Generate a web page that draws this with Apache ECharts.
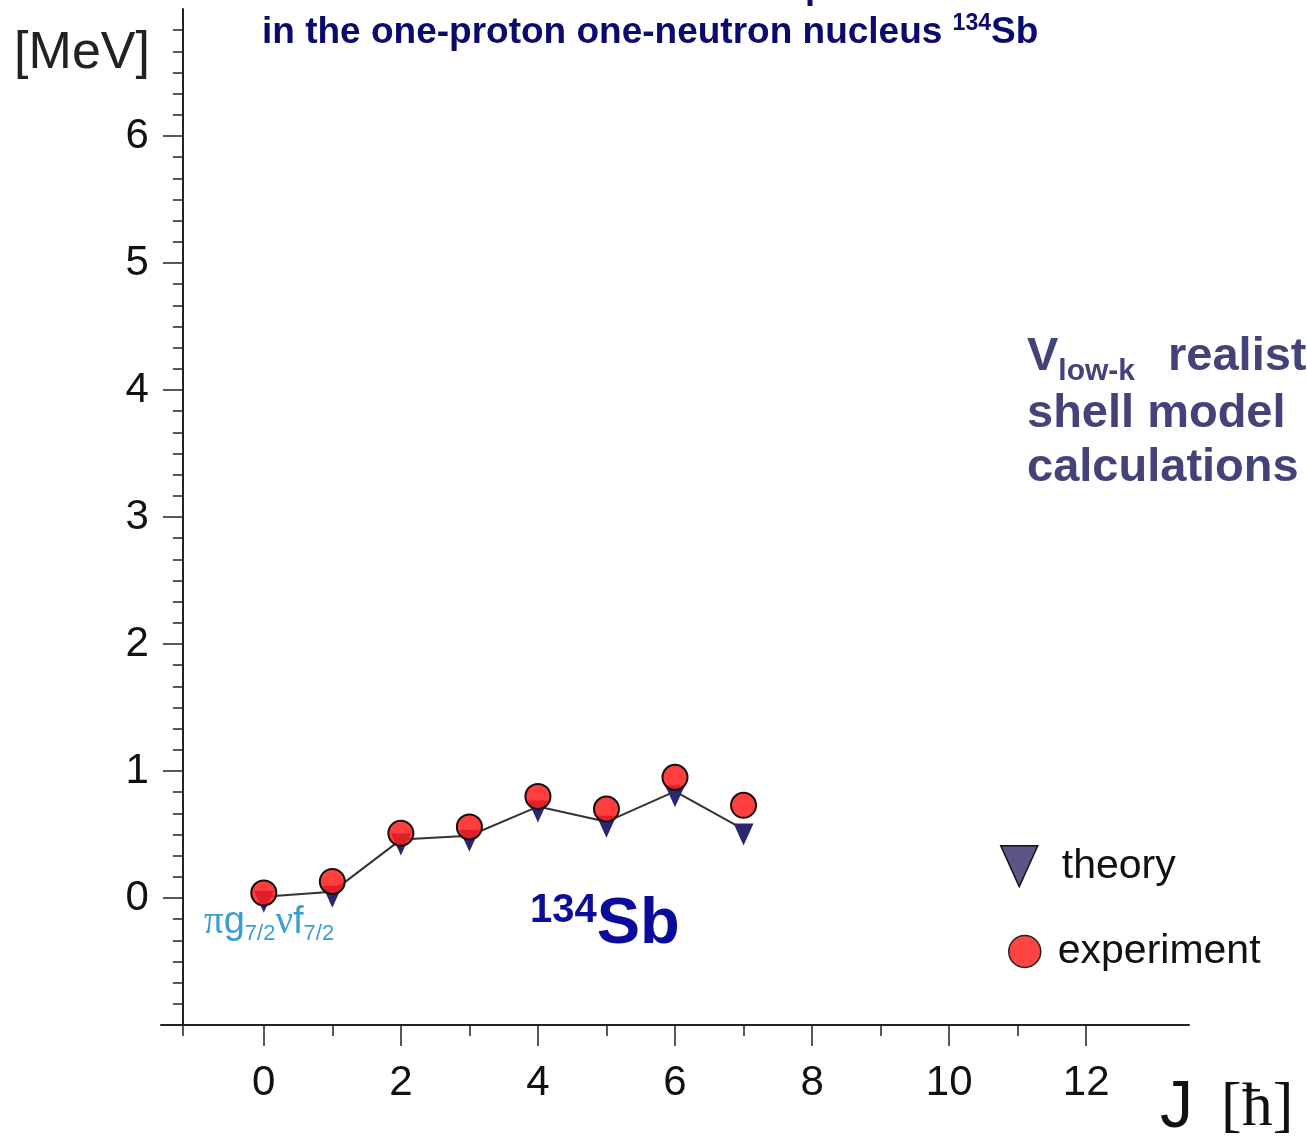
<!DOCTYPE html>
<html>
<head>
<meta charset="utf-8">
<script src="https://cdn.jsdelivr.net/npm/echarts@6/dist/echarts.min.js"></script>
<style>
html,body{margin:0;padding:0;background:#fff;}
#chart{width:1307px;height:1146px;}
</style>
</head>
<body>
<div id="chart"></div>
<script>
// ---- data ----
const spins = [0, 1, 2, 3, 4, 5, 6, 7];                                  // J [hbar]
const theory = [0.01, 0.05, 0.46, 0.49, 0.72, 0.60, 0.84, 0.54];          // MeV
const experiment = [0.04, 0.13, 0.51, 0.56, 0.80, 0.70, 0.95, 0.73];      // MeV
const xMajorTicks = [0, 2, 4, 6, 8, 10, 12];
const xMinorTicks = [1, 3, 5, 7, 9, 11];
const yTickLabels = [0, 1, 2, 3, 4, 5, 6];
const xMin = -1.5, xMax = 13.5, yMin = -1, yMax = 7;
const yAxisCrossing = -1.18;   // J value where the energy axis stands

const SANS = "'Liberation Sans', Arial, sans-serif";
const SERIF = "'Liberation Serif', 'Times New Roman', serif";

const gridLeft = 161, gridRight = 118, gridTop = 9, gridBottom = 121;
const W = 1307;
const pxPerJ = (W - gridLeft - gridRight) / (xMax - xMin);
const yAxisOffset = -(yAxisCrossing - xMin) * pxPerJ;

const chart = echarts.init(document.getElementById('chart'), null, {renderer: 'canvas'});

const option = {
  animation: false,
  backgroundColor: '#ffffff',
  title: [
    {
      text: 'Proton-neutron multiplets',
      left: 447, top: -29.6, padding: 0,
      textStyle: {fontFamily: SANS, fontWeight: 'bold', fontSize: 36, lineHeight: 36, color: '#0b0b6e'}
    },
    {
      text: 'in the one-proton one-neutron nucleus {sup|134}Sb',
      left: 262, top: 12.5, padding: 0,
      textStyle: {
        fontFamily: SANS, fontWeight: 'bold', fontSize: 37, lineHeight: 40, color: '#0b0b6e',
        rich: {
          sup: {fontFamily: SANS, fontWeight: 'bold', fontSize: 23, lineHeight: 30, verticalAlign: 'top', color: '#0b0b6e'}
        }
      }
    }
  ],
  legend: [
    {
      left: 1000, top: 845, padding: 0,
      selectedMode: false,
      itemWidth: 37, itemHeight: 41,
      data: [{
        name: 'theory',
        icon: 'path://M0,0L37,0L18.5,41Z',
        itemStyle: {color: '#5b5588', borderColor: '#111', borderWidth: 1.5, opacity: 1}
      }],
      textStyle: {fontFamily: SANS, fontSize: 41, color: '#111', lineHeight: 41, padding: [0, 0, 0, 19]}
    },
    {
      left: 1008, top: 931, padding: 0,
      selectedMode: false,
      itemWidth: 32, itemHeight: 32,
      data: [{
        name: 'experiment',
        icon: 'circle',
        itemStyle: {color: '#ff4444', borderColor: '#222', borderWidth: 1.5, opacity: 1}
      }],
      textStyle: {fontFamily: SANS, fontSize: 41, color: '#111', lineHeight: 32, padding: [0, 0, 0, 12]}
    }
  ],
  grid: {left: gridLeft, right: gridRight, top: gridTop, bottom: gridBottom, containLabel: false},
  xAxis: [
    {
      type: 'value', min: xMin, max: xMax, position: 'bottom',
      name: '{j|J}{h|[ħ]}',
      nameLocation: 'end', nameGap: -29,
      nameTextStyle: {
        align: 'left', verticalAlign: 'top', padding: [51, 0, 0, 0],
        rich: {
          j: {fontFamily: SANS, fontSize: 66, lineHeight: 66, color: '#111'},
          h: {fontFamily: SERIF, fontSize: 62, lineHeight: 66, color: '#111', padding: [0, 0, 0, 28]}
        }
      },
      axisLine: {show: true, onZero: false, lineStyle: {color: '#222', width: 2}},
      axisTick: {show: true, customValues: xMajorTicks, length: 21, lineStyle: {color: '#222', width: 1.5}},
      axisLabel: {show: true, customValues: xMajorTicks, margin: 37, fontFamily: SANS, fontSize: 42, color: '#111'},
      splitLine: {show: false}
    },
    {
      type: 'value', min: xMin, max: xMax, position: 'bottom',
      axisLine: {show: false, onZero: false},
      axisTick: {show: true, customValues: [yAxisCrossing].concat(xMinorTicks), length: 11, lineStyle: {color: '#222', width: 1.5}},
      axisLabel: {show: false},
      splitLine: {show: false}
    }
  ],
  yAxis: {
    type: 'value', min: yMin, max: yMax, interval: 1, position: 'left',
    offset: yAxisOffset,
    name: '[MeV]',
    nameLocation: 'end', nameGap: -45,
    nameTextStyle: {fontFamily: SANS, fontSize: 52, color: '#222', align: 'right', verticalAlign: 'middle', padding: [0, 33, 0, 0]},
    axisLine: {show: true, onZero: false, lineStyle: {color: '#222', width: 2}},
    axisTick: {show: true, customValues: yTickLabels, length: 20, lineStyle: {color: '#222', width: 1.5}},
    minorTick: {show: true, splitNumber: 6, length: 10, lineStyle: {color: '#222', width: 1.5}},
    axisLabel: {show: true, customValues: yTickLabels, margin: 34, fontFamily: SANS, fontSize: 42, color: '#111'},
    splitLine: {show: false},
    minorSplitLine: {show: false}
  },
  series: [
    {
      name: 'theory',
      type: 'line',
      xAxisIndex: 0,
      data: spins.map((j, i) => [j, theory[i]]),
      symbol: 'triangle',
      symbolRotate: 180,
      symbolSize: [20, 22],
      symbolOffset: [0, 5],
      showAllSymbol: true,
      itemStyle: {color: '#2b2670'},
      lineStyle: {color: '#333333', width: 2},
      z: 2
    },
    {
      name: 'experiment',
      type: 'scatter',
      xAxisIndex: 0,
      data: spins.map((j, i) => [j, experiment[i]]),
      symbol: 'circle',
      symbolSize: 25,
      itemStyle: {color: 'rgba(255,30,30,0.86)', borderColor: '#111', borderWidth: 2, opacity: 1},
      z: 3
    }
  ],
  graphic: [
    {
      type: 'text', x: 1027, y: 357, z: 10,
      style: {
        text: '{v|V}{s|low-k}{r|realist}',
        verticalAlign: 'middle', align: 'left',
        rich: {
          v: {fontFamily: SANS, fontWeight: 'bold', fontSize: 47, lineHeight: 60, fill: '#43437a'},
          s: {fontFamily: SANS, fontWeight: 'bold', fontSize: 30, lineHeight: 25, verticalAlign: 'bottom', fill: '#43437a'},
          r: {fontFamily: SANS, fontWeight: 'bold', fontSize: 47, lineHeight: 60, fill: '#43437a', padding: [0, 0, 0, 33]}
        }
      }
    },
    {
      type: 'text', x: 1027, y: 413.7, z: 10,
      style: {text: 'shell model', fontFamily: SANS, fontWeight: 'bold', fontSize: 47, fill: '#43437a', verticalAlign: 'middle', align: 'left'}
    },
    {
      type: 'text', x: 1027, y: 467.7, z: 10,
      style: {text: 'calculations', fontFamily: SANS, fontWeight: 'bold', fontSize: 47, fill: '#43437a', verticalAlign: 'middle', align: 'left'}
    },
    {
      type: 'text', x: 530, y: 925.5, z: 10,
      style: {
        text: '{a|134}{b|Sb}',
        verticalAlign: 'middle', align: 'left',
        rich: {
          a: {fontFamily: SANS, fontWeight: 'bold', fontSize: 40, lineHeight: 40.6, verticalAlign: 'top', fill: '#0b0b9c'},
          b: {fontFamily: SANS, fontWeight: 'bold', fontSize: 65, lineHeight: 70, fill: '#0b0b9c'}
        }
      }
    },
    {
      type: 'text', x: 204, y: 923, z: 10,
      style: {
        text: '{p|π}{g|g}{s|7/2}{p|ν}{g|f}{s|7/2}',
        verticalAlign: 'middle', align: 'left',
        rich: {
          p: {fontFamily: SERIF, fontSize: 39, lineHeight: 44, fill: '#3a9fd0'},
          g: {fontFamily: SANS, fontSize: 38, lineHeight: 44, fill: '#3a9fd0'},
          s: {fontFamily: SANS, fontSize: 22, lineHeight: 15, verticalAlign: 'bottom', fill: '#3a9fd0'}
        }
      }
    }
  ]
};

chart.setOption(option);
</script>
</body>
</html>
